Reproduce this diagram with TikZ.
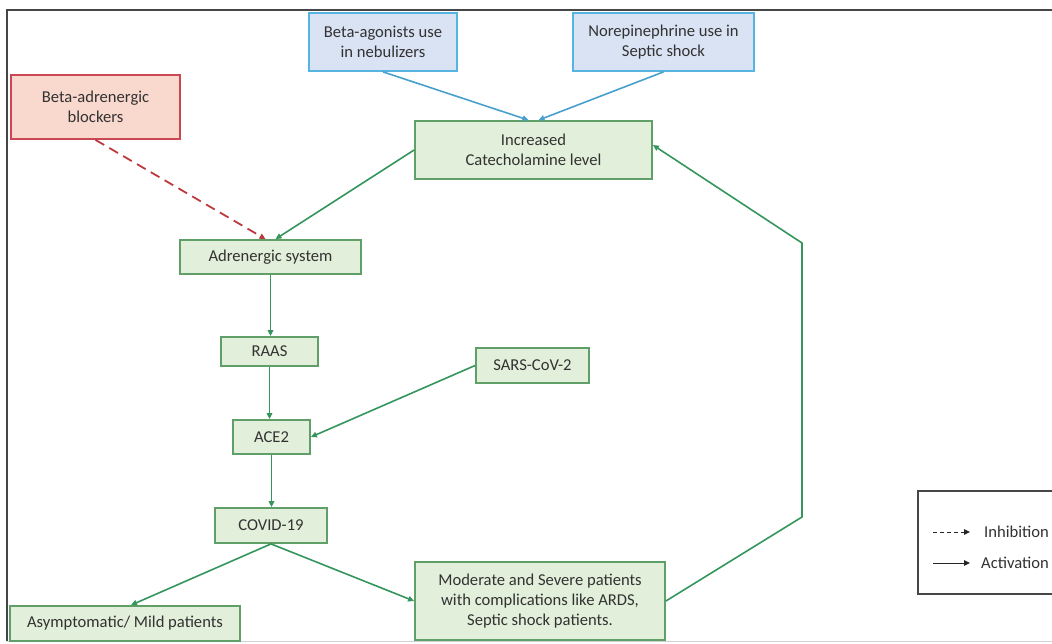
\documentclass[tikz,border=0pt]{standalone}
\usepackage{fontspec}
\setmainfont{Carlito}
\usetikzlibrary{arrows.meta}
\definecolor{gfill}{RGB}{226,239,218}
\definecolor{gdraw}{RGB}{96,160,104}
\definecolor{garrow}{RGB}{52,150,92}
\definecolor{bfill}{RGB}{218,227,243}
\definecolor{bdraw}{RGB}{86,180,226}
\definecolor{barrow}{RGB}{72,160,205}
\definecolor{rfill}{RGB}{249,216,206}
\definecolor{rdraw}{RGB}{200,72,84}
\definecolor{rarrow}{RGB}{188,58,62}
\definecolor{txt}{RGB}{50,50,50}
\definecolor{framecol}{RGB}{70,70,70}
\tikzset{
  box/.style={draw=gdraw, fill=gfill, line width=1.8pt, inner sep=0pt, align=center,
    text=txt, font=\fontsize{16.6}{20}\selectfont},
  bluebox/.style={box, draw=bdraw, fill=bfill},
  redbox/.style={box, draw=rdraw, fill=rfill},
  tip/.style={-{Triangle[length=6pt,width=5.5pt]}},
  act/.style={tip, draw=garrow, line width=1.6pt},
  bact/.style={tip, draw=barrow, line width=1.6pt},
  inh/.style={tip, draw=rarrow, line width=1.8pt, dash pattern=on 10pt off 6pt},
  legtext/.style={inner sep=0pt, anchor=west, text=txt, font=\fontsize{16.6}{20}\selectfont},
}
\begin{document}
\begin{tikzpicture}[x=1pt, y=-1pt]
\useasboundingbox (0,0) rectangle (1052,643);
\fill[white] (0,0) rectangle (1052,643);
% frame
\draw[framecol, line width=2pt] (7,641) -- (7,10) -- (1060,10);
\draw[black!18, line width=1pt] (7,641.5) -- (1060,641.5);

% nodes
\node[bluebox, minimum width=148pt, minimum height=58pt] (agon) at (383,42) {Beta-agonists use\\in nebulizers};
\node[bluebox, minimum width=181pt, minimum height=58pt] (nore) at (663.5,42) {Norepinephrine use in\\Septic shock};
\node[redbox, minimum width=169pt, minimum height=64pt] (block) at (95.5,107) {Beta-adrenergic\\blockers};
\node[box, minimum width=237pt, minimum height=58pt] (cat) at (533.5,150) {Increased\\Catecholamine level};
\node[box, minimum width=181pt, minimum height=34pt] (adr) at (270.5,257) {Adrenergic system};
\node[box, minimum width=97pt, minimum height=29pt] (raas) at (269.5,351.5) {RAAS};
\node[box, minimum width=113pt, minimum height=35pt] (sars) at (532.5,365.5) {SARS-CoV-2};
\node[box, minimum width=77pt, minimum height=34pt] (ace) at (271.5,437) {ACE2};
\node[box, minimum width=112pt, minimum height=35pt] (covid) at (271,525.5) {COVID-19};
\node[box, minimum width=230pt, minimum height=35pt] (asym) at (125,623.5) {Asymptomatic/ Mild patients};
\node[box, minimum width=250pt, minimum height=78pt] (mod) at (540,601) {Moderate and Severe patients\\with complications like ARDS,\\Septic shock patients.};

% connectors
\draw[bact] (agon.south) -- ([xshift=-5pt]cat.north);
\draw[bact] (nore.south) -- ([xshift=5pt]cat.north);
\draw[inh] (block.south) -- ([xshift=-5pt]adr.north);
\draw[act] (cat.west) -- ([xshift=5pt]adr.north);
\draw[act] (adr.south) -- (adr.south |- raas.north);
\draw[act] (raas.south) -- (raas.south |- ace.north);
\draw[act] (sars.west) -- (ace.east);
\draw[act] (ace.south) -- (ace.south |- covid.north);
\draw[act] (covid.south) -- ([xshift=6pt]asym.north);
\draw[act] (covid.south) -- (mod.west);
\coordinate (b1) at (802,517);
\coordinate (b2) at (802,243);
\draw[act] (mod.east) -- (b1) -- (b2) -- ([yshift=5pt]cat.east);

% legend
\draw[framecol, line width=1.6pt] (1062,491) -- (918,491) -- (918,594) -- (1062,594);
\node[legtext] (linh) at (984,532) {Inhibition};
\node[legtext] (lact) at (981,563) {Activation};
\coordinate (li) at (933,532);
\coordinate (la) at (933,563);
\draw[-{Triangle[length=6pt,width=5.5pt]}, black!85, line width=1pt, dash pattern=on 4pt off 3pt] (li) -- ([xshift=-14pt]linh.west);
\draw[-{Triangle[length=6pt,width=5.5pt]}, black!85, line width=1pt] (la) -- ([xshift=-11pt]lact.west);
\end{tikzpicture}
\end{document}
